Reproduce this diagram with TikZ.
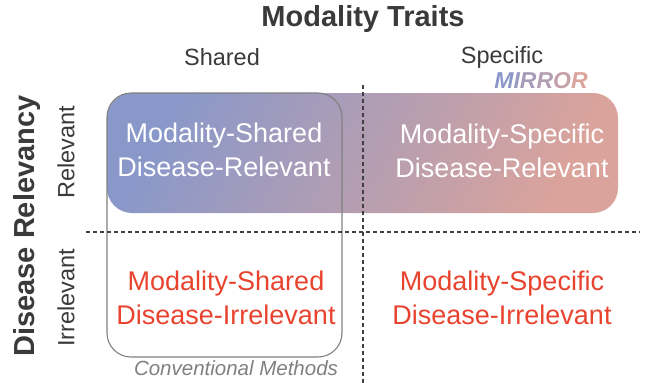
\documentclass[tikz,border=0pt]{standalone}
\usepackage{fontspec}
\setmainfont{Liberation Sans}
\definecolor{mirA}{HTML}{8A98C9}
\definecolor{mirB}{HTML}{DAA39C}
\definecolor{redtxt}{HTML}{E8432E}
\definecolor{darktxt}{HTML}{3A3A3A}
\definecolor{dashcol}{HTML}{404040}
\definecolor{convgray}{HTML}{808080}
\begin{document}
\begin{tikzpicture}[x=1pt,y=-1pt,
  quad/.style={inner sep=0pt, align=center, font=\fontsize{27}{33.5}\selectfont},
  whitetxt/.style={quad, text=white},
  redq/.style={quad, text=redtxt},
  axislab/.style={inner sep=0pt, text=darktxt, font=\fontsize{23.5}{28}\selectfont},
  biglab/.style={inner sep=0pt, text=darktxt, font=\fontsize{29}{34}\selectfont\bfseries},
  divider/.style={dashcol, line width=1.3pt, dash pattern=on 4pt off 3pt}]
\useasboundingbox (0,0) rectangle (657,383);

% gradient MIRROR box
\shade[rounded corners=25pt, left color=mirA, right color=mirB, shading angle=62]
  (107,93) rectangle (618,213);
% conventional methods box
\draw[convgray, line width=1.1pt, rounded corners=24pt] (107,93) rectangle (342,357);

% dividers
\coordinate (vtop) at (363,85);
\coordinate (vbot) at (363,383);
\coordinate (hleft) at (86,232);
\coordinate (hright) at (640,232);
\draw[divider] (vtop) -- (vbot);
\draw[divider] (hleft) -- (hright);

% headings
\node[biglab] (title) at (363,19) {Modality Traits};
\node[axislab] (shared) at (222,57) {Shared};
\node[axislab] (specific) at (502,57) {Specific};
\node[biglab, rotate=90] (relevancy) at (27,226) {Disease Relevancy};
\node[axislab, rotate=90] (relevant) at (66,152) {Relevant};
\node[axislab, rotate=90] (irrelevant) at (66,298) {Irrelevant};

% MIRROR label
\node[inner sep=0pt, font=\fontsize{23}{28}\selectfont\bfseries\itshape] (mirror) at (541,81)
  {\textcolor{mirA}{M}\textcolor{mirA!82!mirB}{I}\textcolor{mirA!66!mirB}{R}\textcolor{mirA!48!mirB}{R}\textcolor{mirA!28!mirB}{O}\textcolor{mirB}{R}};

% quadrant texts
\node[whitetxt] (q1) at (224,150) {Modality-Shared\\Disease-Relevant};
\node[whitetxt] (q2) at (502,151) {Modality-Specific\\Disease-Relevant};
\node[redq] (q3) at (226,298) {Modality-Shared\\Disease-Irrelevant};
\node[redq] (q4) at (502,298) {Modality-Specific\\Disease-Irrelevant};

% conventional methods label
\node[inner sep=0pt, text=convgray, font=\fontsize{20.5}{24}\selectfont\itshape] (conv) at (236,368) {Conventional Methods};
\end{tikzpicture}
\end{document}
